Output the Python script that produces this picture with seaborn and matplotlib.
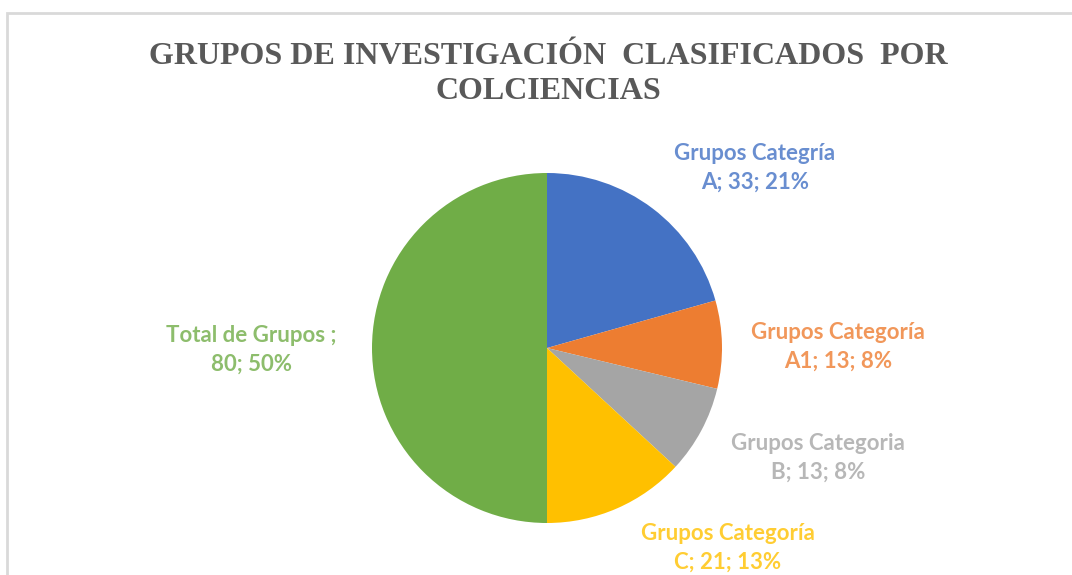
import matplotlib
matplotlib.use("Agg")
import matplotlib.pyplot as plt
import seaborn as sns
from matplotlib.patches import Rectangle

# data
categories = ["Grupos Categría\nA", "Grupos Categoría\nA1", "Grupos Categoria\nB",
              "Grupos Categoría\nC", "Total de Grupos"]
values = [33, 13, 13, 21, 80]
colors = ["#4472C4", "#ED7D31", "#A5A5A5", "#FFC000", "#70AD47"]
title = "GRUPOS DE INVESTIGACIÓN  CLASIFICADOS  POR\nCOLCIENCIAS"

sns.set_theme(style="white")
plt.rcParams['font.family'] = ['Lato', 'DejaVu Sans']

W, H = 1072, 575
CX, CY, R = 547, 348, 175  # pie centre / radius in pixels

fig = plt.figure(figsize=(W / 100, H / 100), dpi=100)
ax = fig.add_axes([0, 0, 1, 1])

# light chart-area border
fig.patches.append(Rectangle((7 / W, -0.1), 1.2, 1 - 13 / H + 0.1, transform=fig.transFigure,
                             fill=False, edgecolor="#D9D9D9", linewidth=2))

ax.pie(values, colors=colors, startangle=90, counterclock=False, radius=1,
       wedgeprops=dict(linewidth=0))
# pie() resets the limits, so map the axes to pixels afterwards
ax.set_xlim(-CX / R, (W - CX) / R)
ax.set_ylim((CY - H) / R, CY / R)
ax.set_aspect('equal')
ax.axis('off')

# label text a touch softer than the slices (as in the reference)
text_colors = [sns.blend_palette([c, "white"], 6)[1] for c in colors]

total = sum(values)
# label block centres (pixels), placed like Excel's best fit
label_pos = [(755, 168), (838, 347), (818, 458), (728, 548), (251, 350)]
for cat, v, c, (px, py) in zip(categories, values, text_colors, label_pos):
    pct = round(v / total * 100)
    if "\n" in cat:
        txt = f"{cat}; {v}; {pct}%"
    else:
        txt = f"{cat} ;\n{v}; {pct}%"
    ax.text((px - CX) / R, (CY - py) / R, txt, color=c, ha='center', va='center',
            fontsize=16, fontweight='bold', linespacing=1.45)

fig.text(548 / W, 1 - 74 / H, title, ha='center', va='center', color="#595959",
         fontsize=23, fontweight='bold', family=['Liberation Serif', 'DejaVu Serif'],
         linespacing=1.28)

fig.savefig("out.png", dpi=100, facecolor="white")
